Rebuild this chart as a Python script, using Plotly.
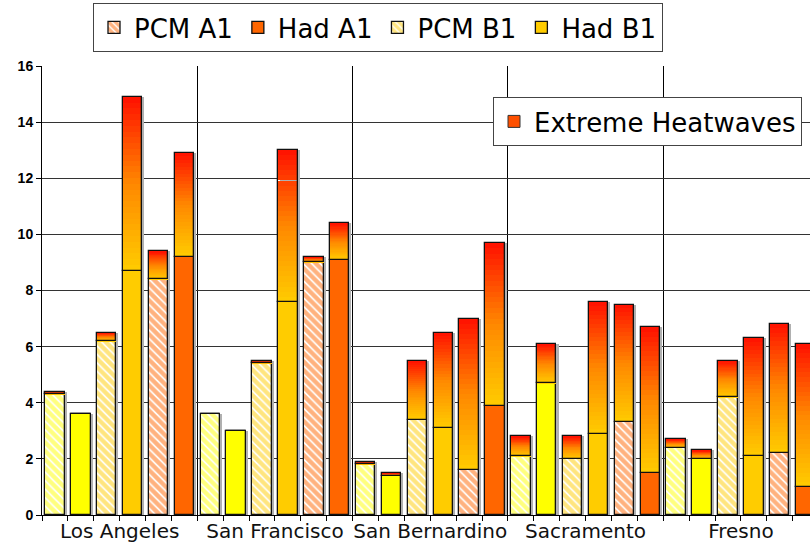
import plotly.graph_objects as go

cities = ["Los Angeles", "San Francisco", "San Bernardino", "Sacramento", "Fresno"]

# six bars per city (slot order left->right); base value and total (base + extreme heatwaves)
pcm_y_base = [4.3, 3.6, 1.8, 2.1, 2.4]
pcm_y_total = [4.4, 3.6, 1.9, 2.8, 2.7]
had_y_base = [3.6, 3.0, 1.4, 4.7, 2.0]
had_y_total = [3.6, 3.0, 1.5, 6.1, 2.3]
pcm_b1_base = [6.2, 5.4, 3.4, 2.0, 4.2]
pcm_b1_total = [6.5, 5.5, 5.5, 2.8, 5.5]
had_b1_base = [8.7, 7.6, 3.1, 2.9, 2.1]
had_b1_total = [14.9, 13.0, 6.5, 7.6, 6.3]
pcm_a1_base = [8.4, 9.0, 1.6, 3.3, 2.2]
pcm_a1_total = [9.4, 9.2, 7.0, 7.5, 6.8]
had_a1_base = [9.2, 9.1, 3.9, 1.5, 1.0]
had_a1_total = [12.9, 10.4, 9.7, 6.7, 6.1]

y_ticks = [0, 2, 4, 6, 8, 10, 12, 14, 16]

series = [
    # name, base, total, color, hatched, show in legend, legend rank
    ("PCM B1 ", pcm_y_base, pcm_y_total, "#FFFF00", True, False, 9),
    ("Had B1 ", had_y_base, had_y_total, "#FFFF00", False, False, 9),
    ("PCM B1", pcm_b1_base, pcm_b1_total, "#FFCC00", True, True, 3),
    ("Had B1", had_b1_base, had_b1_total, "#FFCC00", False, True, 4),
    ("PCM A1", pcm_a1_base, pcm_a1_total, "#FF6600", True, True, 1),
    ("Had A1", had_a1_base, had_a1_total, "#FF6600", False, True, 2),
]

NS = len(series)
BW = 0.75
EDGE = "#111"
FONT = "DejaVu Sans, Verdana"
fig = go.Figure()

all_x, all_base, all_ext, all_total = [], [], [], []
for k, (name, base, total, color, hatched, show, rank) in enumerate(series):
    xs = [c * NS + k for c in range(len(cities))]
    all_x += xs
    all_base += base
    all_total += total
    all_ext += [t - b for t, b in zip(total, base)]

# drop shadow beneath the bars
fig.add_trace(go.Bar(
    x=all_x, y=all_total, base=0, width=BW, offset=-BW / 2 + 0.08,
    marker=dict(color="#b0b0b0", line=dict(width=0)), showlegend=False, hoverinfo="skip"))

for k, (name, base, total, color, hatched, show, rank) in enumerate(series):
    xs = [c * NS + k for c in range(len(cities))]
    if hatched:
        marker = dict(color="white", line=dict(color=EDGE, width=1.3),
                      pattern=dict(shape="\\", fgcolor=color, bgcolor="white",
                                   size=6, solidity=0.72, fillmode="overlay"))
    else:
        marker = dict(color=color, line=dict(color=EDGE, width=1.3))
    fig.add_trace(go.Bar(x=xs, y=base, name=name, width=BW, marker=marker,
                         showlegend=show, legendrank=rank, legend="legend",
                         hoverinfo="y"))

# gradient for the extreme heatwave segment
stops = [(0.0, (255, 204, 0)), (0.5, (255, 136, 0)), (1.0, (255, 16, 0))]


def grad(t):
    for (t0, c0), (t1, c1) in zip(stops[:-1], stops[1:]):
        if t <= t1:
            f = (t - t0) / (t1 - t0)
            return "rgb(%d,%d,%d)" % tuple(round(a + (b - a) * f) for a, b in zip(c0, c1))
    return "rgb(%d,%d,%d)" % stops[-1][1]


N = 30
for i in range(N):
    fig.add_trace(go.Bar(
        x=all_x, y=[e / N for e in all_ext],
        base=[b + e * i / N for b, e in zip(all_base, all_ext)],
        width=BW, marker=dict(color=grad((i + 0.5) / N), line=dict(width=0)),
        showlegend=False, hoverinfo="skip"))

# outline of the extreme segment (on the overlaid axis that carries the city labels)
fig.add_trace(go.Bar(
    x=all_x, y=all_ext, base=all_base, width=BW, xaxis="x2",
    marker=dict(color="rgba(0,0,0,0)", line=dict(color=EDGE, width=1.3)),
    showlegend=False, hoverinfo="skip"))

fig.add_trace(go.Bar(
    x=[None], y=[None], name="Extreme Heatwaves", legend="legend2",
    marker=dict(color="#FF5000", line=dict(color="#333", width=1))))

n_slots = NS * len(cities)
x_range = [-0.5, n_slots - 0.83]
fig.update_layout(
    width=810, height=545,
    margin=dict(l=42, r=0, t=66, b=30),
    paper_bgcolor="white", plot_bgcolor="white",
    barmode="overlay", bargap=0,
    font=dict(family=FONT, color="black"),
    xaxis=dict(range=x_range, tickmode="linear", tick0=-0.5, dtick=NS,
               showticklabels=False, showgrid=True, gridcolor="#000", gridwidth=1,
               ticks="outside", ticklen=5, tickcolor="#000",
               minor=dict(tickmode="linear", tick0=-0.5, dtick=1, ticks="outside",
                          ticklen=5, tickcolor="#000", showgrid=False),
               showline=True, linecolor="#000", linewidth=1, zeroline=False),
    xaxis2=dict(overlaying="x", range=x_range, side="bottom", anchor="y",
                tickmode="array", tickvals=[c * NS + (NS - 1) / 2 for c in range(len(cities))],
                ticktext=cities, ticks="", showgrid=False, showline=False, zeroline=False,
                tickangle=0, ticklabelstandoff=2,
                tickfont=dict(family=FONT, size=20, color="#111")),
    yaxis=dict(range=[0, 16], tickvals=y_ticks, showgrid=True, gridcolor="#333",
               gridwidth=1, ticks="outside", ticklen=5, tickcolor="#000",
               showline=True, linecolor="#000", linewidth=1, zeroline=False,
               tickfont=dict(family="Liberation Sans, Arial", size=14, weight="bold")),
    legend=dict(orientation="h", x=(93 - 42) / 768, xanchor="left",
                y=(515 - 3) / 449, yanchor="top",
                bgcolor="white", bordercolor="#444", borderwidth=1,
                font=dict(size=26), traceorder="normal"),
    legend2=dict(x=(493 - 42) / 768, xanchor="left", y=(515 - 97) / 449, yanchor="top",
                 bgcolor="white", bordercolor="#444", borderwidth=1,
                 font=dict(size=26)),
)

fig.write_html("out.html", config={"displayModeBar": False},
               post_script="document.body.style.margin='0';"
                           "document.body.style.overflow='hidden';")
